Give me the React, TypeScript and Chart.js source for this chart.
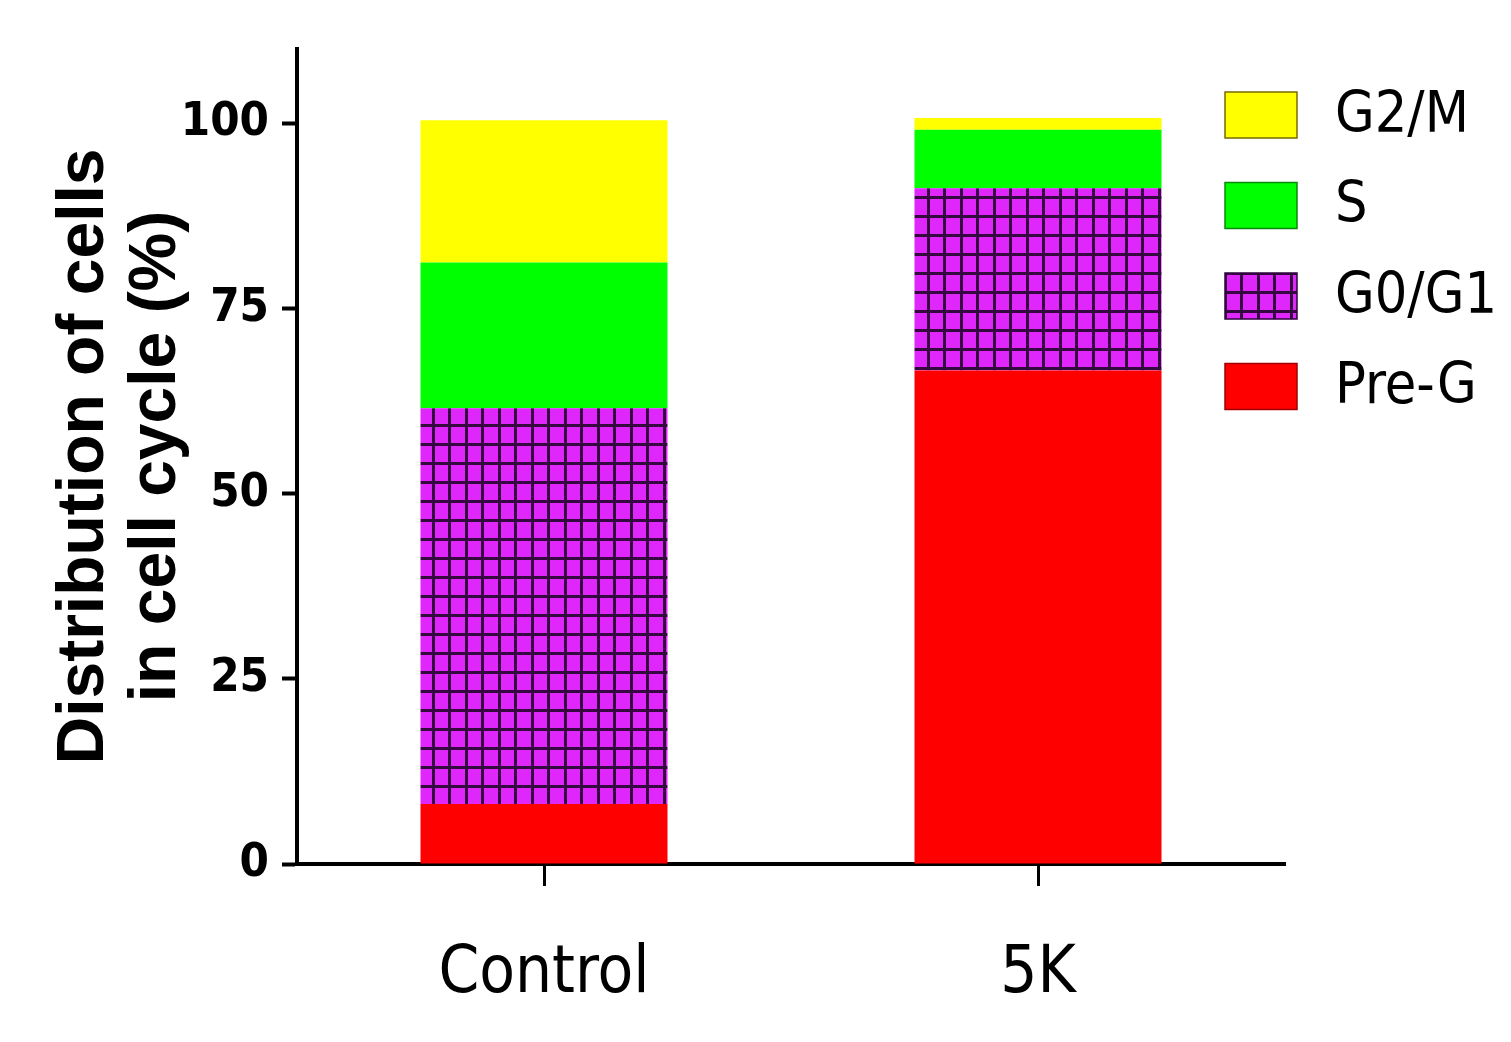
import { useEffect, useRef } from 'react';
import { Chart, registerables, Plugin } from 'chart.js';

Chart.register(...registerables);

const categories: string[] = ['Control', '5K'];
const preG: number[] = [8.1, 66.6];
const g0g1: number[] = [53.4, 24.6];
const sPhase: number[] = [19.7, 7.9];
const g2m: number[] = [19.2, 1.6];
const yTicks: number[] = [0, 25, 50, 75, 100];

const NARROW = '"Liberation Sans Narrow", "DejaVu Sans Condensed", "Liberation Sans", Arial, sans-serif';
const WIDE = '"Liberation Sans", Arial, sans-serif';

// magenta squares with dark grid lines
function makeGridPattern(): CanvasPattern | string {
  const tile = document.createElement('canvas');
  tile.width = 33;
  tile.height = 19;
  const c = tile.getContext('2d');
  if (!c) return '#dd22ff';
  c.fillStyle = '#df26fb';
  c.fillRect(0, 0, 33, 19);
  c.fillStyle = '#350840';
  c.fillRect(3, 0, 3, 19);
  c.fillRect(19, 0, 3, 19);
  c.fillRect(0, 6, 33, 3);
  const p = c.createPattern(tile, 'repeat');
  return p || '#dd22ff';
}

const legendPlugin: Plugin<'bar'> = {
  id: 'sideLegend',
  afterDraw(chart) {
    const ctx = chart.ctx;
    const ds = [...chart.data.datasets].reverse();
    const borders = ['#7a6a00', '#0a8a0a', '#300040', '#a00000'];
    ctx.save();
    ds.forEach((d, i) => {
      const top = 92 + i * 90.5;
      ctx.fillStyle = d.backgroundColor as any;
      ctx.fillRect(1225, top, 72, 46);
      ctx.strokeStyle = borders[i];
      ctx.lineWidth = 1.5;
      ctx.strokeRect(1225, top, 72, 46);
      ctx.fillStyle = '#000';
      ctx.font = `57px ${NARROW}`;
      ctx.textBaseline = 'middle';
      ctx.textAlign = 'left';
      ctx.fillText(String(d.label), 1335, top + 25);
    });
    ctx.restore();
  },
};

export default function App() {
  const canvasRef = useRef<HTMLCanvasElement | null>(null);

  useEffect(() => {
    document.body.style.margin = '0';
    if (!canvasRef.current) return;
    const pattern = makeGridPattern();

    const chart = new Chart(canvasRef.current, {
      type: 'bar',
      data: {
        labels: categories,
        datasets: [
          { label: 'Pre-G', data: preG, backgroundColor: '#ff0000' },
          { label: 'G0/G1', data: g0g1, backgroundColor: pattern as any },
          { label: 'S', data: sPhase, backgroundColor: '#00ff00' },
          { label: 'G2/M', data: g2m, backgroundColor: '#ffff00' },
        ],
      },
      options: {
        responsive: true,
        maintainAspectRatio: false,
        animation: false,
        layout: { padding: { top: 49, right: 226, left: 0, bottom: 0 } },
        datasets: {
          bar: { barPercentage: 0.5, categoryPercentage: 1.0, borderWidth: 0 },
        },
        plugins: {
          legend: { display: false },
          tooltip: { enabled: false },
        },
        scales: {
          x: {
            stacked: true,
            afterFit: (scale) => { scale.height = 178; },
            grid: {
              offset: false,
              drawOnChartArea: false,
              drawTicks: true,
              tickLength: 22,
              tickWidth: 3,
              color: '#000',
            },
            border: { display: true, color: '#000', width: 4 },
            ticks: {
              color: '#000',
              padding: 50,
              font: { family: NARROW, size: 65 },
            },
          },
          y: {
            stacked: true,
            min: 0,
            max: 110,
            afterFit: (scale) => { scale.width = 297; },
            afterBuildTicks: (scale) => {
              scale.ticks = yTicks.map((v) => ({ value: v }));
            },
            grid: {
              drawOnChartArea: false,
              drawTicks: true,
              tickLength: 15,
              tickWidth: 4,
              color: '#000',
            },
            border: { display: true, color: '#000', width: 4 },
            ticks: {
              color: '#000',
              padding: 13,
              font: { family: NARROW, size: 47, weight: 'bold' },
            },
            title: {
              display: true,
              text: ['Distribution of cells', 'in cell cycle (%)'],
              color: '#000',
              padding: { top: 49, bottom: 0 },
              font: { family: WIDE, size: 66, weight: 'bold', lineHeight: 1.09 },
            },
          },
        },
      },
      plugins: [legendPlugin],
    });

    return () => chart.destroy();
  }, []);

  return (
    <div style={{ position: 'relative', width: 1511, height: 1042, background: '#fff' }}>
      <canvas ref={canvasRef} />
    </div>
  );
}
